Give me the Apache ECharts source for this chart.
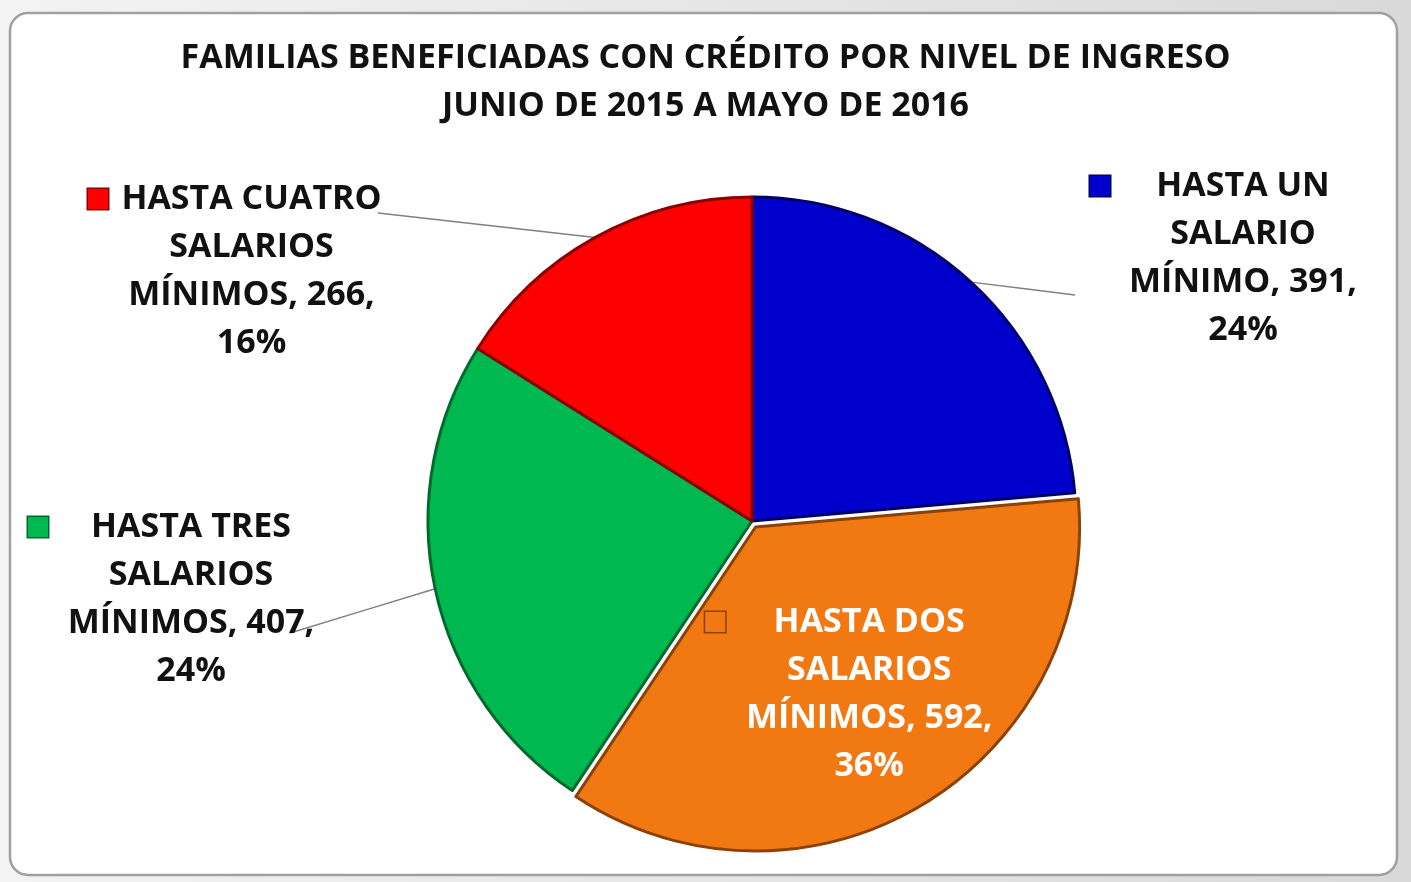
<!DOCTYPE html>
<html>
<head>
<meta charset="utf-8">
<title>Familias beneficiadas con crédito por nivel de ingreso</title>
<script src="https://cdn.jsdelivr.net/npm/echarts@6/dist/echarts.min.js"></script>
<style>
  html, body { margin: 0; padding: 0; background: #e6e6e6; }
  #chart { width: 1411px; height: 882px; }
</style>
</head>
<body>
<div id="chart"></div>
<script>
// datos
var titleText = 'FAMILIAS BENEFICIADAS CON CRÉDITO POR NIVEL DE INGRESO\nJUNIO DE 2015 A MAYO DE 2016';
var categories = ['HASTA UN SALARIO MÍNIMO', 'HASTA DOS SALARIOS MÍNIMOS', 'HASTA TRES SALARIOS MÍNIMOS', 'HASTA CUATRO SALARIOS MÍNIMOS'];
var labelWords = [
  ['HASTA UN', 'SALARIO', 'MÍNIMO'],
  ['HASTA DOS', 'SALARIOS', 'MÍNIMOS'],
  ['HASTA TRES', 'SALARIOS', 'MÍNIMOS'],
  ['HASTA CUATRO', 'SALARIOS', 'MÍNIMOS']
];
var values = [391, 592, 407, 266];

// estilos
var colors = ['#0000cc', '#f27812', '#00b850', '#ff0000'];
var edgeColors = ['#00006a', '#8a4208', '#006a2c', '#8c0000'];
var textColors = ['#111', '#fff', '#111', '#111'];
var FONT = 'Open Sans';
var FS = 34;
// etiquetas de fuera: esquina izq. del cuadrito, centro vertical, ancho del bloque, fin de la guía
// la del sector naranja va dentro (posición por defecto + relleno)
var labelPos = [
  { x: 1090, y: 258, w: 236, end: [1075, 295] },
  { inside: true, w: 258, pad: [50, 0, 0, 24] },
  { x: 28, y: 599, w: 256, end: [290, 633] },
  { x: 88, y: 271, w: 257, end: [378, 213] }
];

var chart = echarts.init(document.getElementById('chart'));

var data = values.map(function (v, i) {
  var lp = labelPos[i];
  var label = {
    rich: {
      sq: { width: 20, height: 20, backgroundColor: colors[i], borderColor: edgeColors[i], borderWidth: 1.5, align: 'left', lineHeight: 48 },
      g: { width: 15, align: 'left', lineHeight: 48 },
      p: { width: 35, align: 'left', lineHeight: 48 },
      t: { width: lp.w, align: 'center', lineHeight: 48, fontSize: FS, fontWeight: 'bold', fontFamily: FONT, color: textColors[i] }
    }
  };
  if (lp.inside) {
    label.position = 'inside';
    label.padding = lp.pad;
  }
  return {
    name: categories[i],
    value: v,
    selected: i === 1,
    itemStyle: { color: colors[i], borderColor: edgeColors[i], borderWidth: 3 },
    labelLine: { show: !lp.inside },
    label: label
  };
});

var option = {
  backgroundColor: new echarts.graphic.LinearGradient(0, 0, 1, 0, [
    { offset: 0, color: '#f3f3f3' },
    { offset: 1, color: '#d9d9d9' }
  ]),
  graphic: [{
    type: 'rect',
    z: -10,
    shape: { x: 10, y: 13, width: 1387, height: 862, r: 18 },
    style: { fill: '#fff', stroke: '#a0a0a0', lineWidth: 2.5 }
  }],
  title: {
    text: titleText,
    left: 'center',
    top: 29,
    textStyle: { fontFamily: FONT, fontSize: FS, fontWeight: 'bold', color: '#111', lineHeight: 48 }
  },
  series: [{
    type: 'pie',
    center: [752, 521],
    radius: 324,
    startAngle: 90,
    clockwise: true,
    selectedMode: 'single',
    selectedOffset: 7,
    percentPrecision: 0,
    animation: false,
    label: {
      show: true,
      position: 'outside',
      formatter: function (p) {
        var w = labelWords[p.dataIndex];
        return '{sq|}{g|}{t|' + w[0] + '}\n' +
          '{p|}{t|' + w[1] + '}\n' +
          '{p|}{t|' + w[2] + ', ' + p.value + ',}\n' +
          '{p|}{t|' + p.percent + '%}';
      }
    },
    labelLine: { show: true, length: 10, length2: 10, lineStyle: { color: '#808080', width: 1.5 } },
    labelLayout: function (params) {
      var pos = labelPos[params.dataIndex];
      if (pos.inside) return {};
      var res = { x: pos.x, y: pos.y, align: 'left', verticalAlign: 'middle' };
      if (params.labelLinePoints) {
        var a = params.labelLinePoints[0];
        res.labelLinePoints = [a, [(a[0] + pos.end[0]) / 2, (a[1] + pos.end[1]) / 2], pos.end];
      }
      return res;
    },
    data: data
  }]
};

chart.setOption(option);
window.addEventListener('resize', function () {
  chart.resize();
});
</script>
</body>
</html>
